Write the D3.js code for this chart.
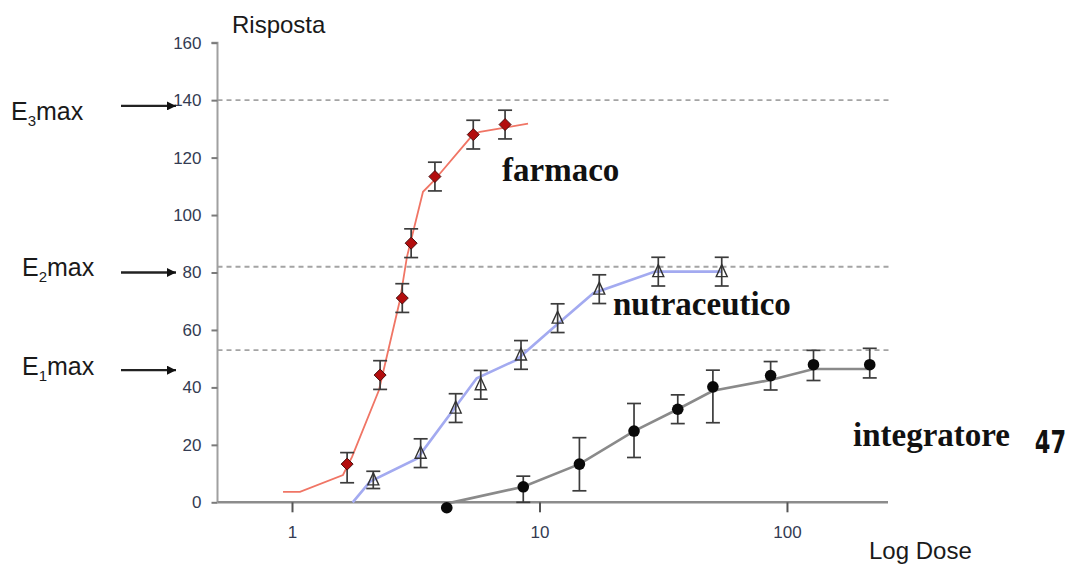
<!DOCTYPE html>
<html><head><meta charset="utf-8">
<script src="https://cdn.jsdelivr.net/npm/d3@7"></script>
<style>html,body{margin:0;padding:0;background:#fff;}svg{display:block;}</style>
</head><body>
<svg id="c" width="1075" height="564"></svg>
<script>
// ---------- data ----------
const yTicks = [0, 20, 40, 60, 80, 100, 120, 140, 160];
const xTicks = [1, 10, 100];
const xTickLabels = ["1", "10", "100"];

// E max reference levels (dashed lines)
const emaxLevels = [140, 82, 53];
const emaxLabelSub = ["3", "2", "1"];
const emaxArrowValues = [138, 80, 46];

// farmaco: measured points and fitted curve
const farmacoDose = [1.67, 2.27, 2.79, 3.03, 3.78, 5.40, 7.26];
const farmacoResp = [13.3, 44.3, 71.1, 90.2, 113.4, 128.0, 131.5];
const farmacoErrUp = [4, 5, 5, 5, 5, 5, 5];
const farmacoErrDown = [6.5, 5, 5, 5, 5, 5, 5];
const farmacoFitDose = [0.92, 1.077, 1.607, 1.748, 2.247, 2.732, 2.915, 3.383, 3.713, 5.387, 5.748, 7.255, 8.99];
const farmacoFitResp = [3.6, 3.6, 9.5, 15.8, 39.1, 70.5, 85.5, 108.1, 111.6, 128.0, 129.0, 130.4, 131.8];

// nutraceutico
const nutraDose = [2.13, 3.31, 4.585, 5.79, 8.42, 11.84, 17.44, 30.2, 54.5];
const nutraResp = [7.8, 17.1, 32.8, 40.9, 51.3, 64.1, 74.2, 80.3, 80.3];
const nutraErrUp = [3, 5, 5, 5, 5, 5, 5, 5, 5];
const nutraErrDown = [3, 5, 5, 5, 5, 5, 5, 5, 5];
const nutraFitDose = [1.759, 2.067, 3.208, 5.576, 8.09, 11.74, 16.5, 29.3, 54.5];
const nutraFitResp = [0, 7.2, 15.3, 43.2, 49.6, 61.8, 72.8, 80.3, 80.3];

// integratore
const integDose = [4.22, 8.6, 14.5, 24.1, 36.2, 50.2, 85.9, 128, 216];
const integResp = [-1.9, 5.4, 13.3, 24.8, 32.4, 40.2, 44.1, 47.9, 47.9];
const integErrUp = [0, 3.7, 9.2, 9.6, 5, 5.8, 4.9, 5, 5.7];
const integErrDown = [0, 5.4, 9.3, 9.2, 5, 12.5, 5, 5.5, 4.6];
const integFitDose = [4.35, 8.6, 14.5, 24.1, 36.2, 50.2, 85.9, 128, 216];
const integFitResp = [-0.2, 5.4, 13.3, 24.8, 32.4, 38.8, 42.6, 46.4, 46.4];

// ---------- chart ----------
const svg = d3.select("#c");
const x = d3.scaleLog().domain([0.5, 256]).range([217.5, 888]);
const y = d3.scaleLinear().domain([0, 160]).range([502.3, 42.7]);
const sans = "'Liberation Sans', Arial, sans-serif";
const serif = "'Liberation Serif', 'Times New Roman', serif";
const tickColor = "#343b52";

// dashed Emax lines
svg.selectAll("line.emax").data(emaxLevels).join("line")
  .attr("x1", x(0.5)).attr("x2", 890)
  .attr("y1", d => y(d)).attr("y2", d => y(d))
  .attr("stroke", "#a4a4a4").attr("stroke-width", 1.8)
  .attr("stroke-dasharray", "5,4");

// y axis
const yAxis = d3.axisLeft(y).tickValues(yTicks).tickSize(6).tickPadding(10);
const gy = svg.append("g").attr("transform", `translate(${x(0.5)},0)`).call(yAxis);
gy.select(".domain").attr("stroke", "#a0a0a0").attr("stroke-width", 2)
  .attr("d", `M-6,${y(160)}H0V${y(0)}`);
gy.selectAll(".tick line").attr("stroke", "#7a7a7a").attr("stroke-width", 2);
gy.selectAll(".tick text").attr("font-family", sans).attr("font-size", 17)
  .attr("fill", tickColor);

// x axis
const xAxis = d3.axisBottom(x).tickValues(xTicks)
  .tickFormat((d, i) => xTickLabels[i]).tickSize(10).tickPadding(14);
const gx = svg.append("g").attr("transform", `translate(0,${y(0)})`).call(xAxis);
gx.select(".domain").attr("stroke", "#8c8c8c").attr("stroke-width", 2.6)
  .attr("d", `M${x(0.5)},0H888`);
gx.selectAll(".tick line").attr("stroke", "#555").attr("stroke-width", 2);
gx.selectAll(".tick text").attr("font-family", sans).attr("font-size", 17)
  .attr("fill", tickColor);

// fitted lines
const line = d3.line().x(d => x(d[0])).y(d => y(d[1]));
const zip = (a, b) => a.map((v, i) => [v, b[i]]);
svg.append("path").attr("d", line(zip(farmacoFitDose, farmacoFitResp)))
  .attr("fill", "none").attr("stroke", "#f07565").attr("stroke-width", 1.8);
svg.append("path").attr("d", line(zip(nutraFitDose, nutraFitResp)))
  .attr("fill", "none").attr("stroke", "#a3aaf0").attr("stroke-width", 2.6);
svg.append("path").attr("d", line(zip(integFitDose, integFitResp)))
  .attr("fill", "none").attr("stroke", "#8a8a8a").attr("stroke-width", 2.6);

// error bars
function errorBars(dose, resp, up, down) {
  const g = svg.append("g").attr("stroke", "#3c3c3c").attr("stroke-width", 1.7);
  dose.forEach((d, i) => {
    if (!up[i] && !down[i]) return;
    const cx = x(d), yt = y(resp[i] + up[i]), yb = y(resp[i] - down[i]);
    g.append("line").attr("x1", cx).attr("x2", cx).attr("y1", yt).attr("y2", yb);
    g.append("line").attr("x1", cx - 7).attr("x2", cx + 7).attr("y1", yt).attr("y2", yt);
    g.append("line").attr("x1", cx - 7).attr("x2", cx + 7).attr("y1", yb).attr("y2", yb);
  });
}
errorBars(farmacoDose, farmacoResp, farmacoErrUp, farmacoErrDown);
errorBars(nutraDose, nutraResp, nutraErrUp, nutraErrDown);
errorBars(integDose, integResp, integErrUp, integErrDown);

// markers
svg.selectAll("path.dia").data(zip(farmacoDose, farmacoResp)).join("path")
  .attr("transform", d => `translate(${x(d[0])},${y(d[1])})`)
  .attr("d", "M0,-6L6,0L0,6L-6,0Z")
  .attr("fill", "#b30d0d").attr("stroke", "#4a1010").attr("stroke-width", 1);
svg.selectAll("path.tri").data(zip(nutraDose, nutraResp)).join("path")
  .attr("transform", d => `translate(${x(d[0])},${y(d[1])})`)
  .attr("d", "M0,-7L5.5,5L-5.5,5Z")
  .attr("fill", "none").attr("stroke", "#333").attr("stroke-width", 1.4);
svg.selectAll("circle.dot").data(zip(integDose, integResp)).join("circle")
  .attr("cx", d => x(d[0])).attr("cy", d => y(d[1])).attr("r", 5.8)
  .attr("fill", "#0a0a0a");

// Emax labels with arrows
const defs = svg.append("defs");
defs.append("marker").attr("id", "ah").attr("viewBox", "0 0 10 10")
  .attr("refX", 10).attr("refY", 5).attr("markerWidth", 10).attr("markerHeight", 9)
  .attr("markerUnits", "userSpaceOnUse").attr("orient", "auto")
  .append("path").attr("d", "M0,0L10,5L0,10Z").attr("fill", "#111");
svg.selectAll("line.arr").data(emaxArrowValues).join("line")
  .attr("x1", 121).attr("x2", 176)
  .attr("y1", d => y(d)).attr("y2", d => y(d))
  .attr("stroke", "#222").attr("stroke-width", 2.4).attr("marker-end", "url(#ah)");
const labelPos = [[11, 120], [22, 276], [22, 375]];
emaxLabelSub.forEach((s, i) => {
  const t = svg.append("text").attr("x", labelPos[i][0]).attr("y", labelPos[i][1])
    .attr("font-family", sans).attr("font-size", 25).attr("fill", "#1a1a1a");
  t.append("tspan").text("E");
  t.append("tspan").attr("font-size", 15).attr("dy", 6).text(s);
  t.append("tspan").attr("dy", -6).text("max");
});

// axis titles
svg.append("text").attr("x", 232).attr("y", 33).attr("font-family", sans)
  .attr("font-size", 24).attr("fill", "#1a1a1a").text("Risposta");
svg.append("text").attr("x", 869).attr("y", 559).attr("font-family", sans)
  .attr("font-size", 24).attr("fill", "#1a1a1a").text("Log Dose");

// series labels
const seriesLabels = [["farmaco", 502, 181], ["nutraceutico", 613, 315], ["integratore", 853, 446]];
seriesLabels.forEach(([t, lx, ly]) => {
  svg.append("text").attr("x", lx).attr("y", ly).attr("font-family", serif)
    .attr("font-weight", "bold").attr("font-size", 33).attr("fill", "#111").text(t);
});
svg.append("text").attr("transform", "translate(1066,453) scale(0.78,1)")
  .attr("text-anchor", "end")
  .attr("font-family", "'DejaVu Sans Condensed', 'Liberation Sans Narrow', sans-serif")
  .attr("font-weight", "bold").attr("font-size", 32).attr("fill", "#111").text("47");
</script>
</body></html>
